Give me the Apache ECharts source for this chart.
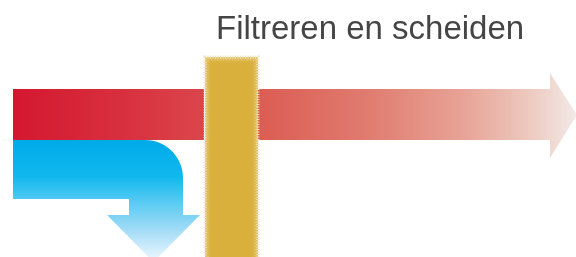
<!DOCTYPE html>
<html>
<head>
<meta charset="utf-8">
<script src="https://cdn.jsdelivr.net/npm/echarts@6/dist/echarts.min.js"></script>
<style>
  html, body { margin: 0; padding: 0; background: #fff; }
  #main { width: 576px; height: 257px; }
</style>
</head>
<body>
<div id="main"></div>
<script>
// diagram shapes, in the same units as the hidden axes (0..576 x 0..257)
const titleText = "Filtreren en scheiden";
const feedRed = [[13, 89], [204, 89], [204, 140], [13, 140]];
const passRed = [[258, 89], [550, 89], [550, 73], [577, 115], [550, 158], [550, 140], [258, 140]];
const filterBar = [[205, 57], [258, 57], [258, 262], [205, 262]];
const filterCore = [[209, 61], [254, 61], [254, 262], [209, 262]];
// blue branch: outline with a rounded corner (centre, radius)
const blueOutline = [[13, 140], [145, 140], "corner", [183, 215], [200, 215], [153.5, 262], [107, 215], [129, 215], [129, 199], [13, 199]];
const blueCorner = { c: [145, 178], r: 38 };

const grad = (x, y, x2, y2, stops) =>
  new echarts.graphic.LinearGradient(x, y, x2, y2, stops.map(([offset, color]) => ({ offset, color })));

const expand = (pts) => {
  const out = [];
  pts.forEach((p) => {
    if (p === "corner") {
      for (let a = -90; a <= 0; a += 6) {
        const t = (a * Math.PI) / 180;
        out.push([blueCorner.c[0] + blueCorner.r * Math.cos(t), blueCorner.c[1] + blueCorner.r * Math.sin(t)]);
      }
    } else out.push(p);
  });
  return out;
};

const shapeSeries = (name, pts, style, z) => ({
  name,
  type: "custom",
  coordinateSystem: "cartesian2d",
  z,
  silent: true,
  data: [[pts[0][0], pts[0][1]]],
  renderItem: (params, api) => ({
    type: "polygon",
    shape: { points: expand(pts).map((p) => api.coord(p)) },
    style,
  }),
});

const option = {
  animation: false,
  grid: { left: 0, right: 0, top: 0, bottom: 0 },
  xAxis: { type: "value", min: 0, max: 576, show: false },
  yAxis: { type: "value", min: 0, max: 257, inverse: true, show: false },
  title: {
    text: titleText,
    left: 211,
    top: 8,
    textStyle: { fontFamily: "Liberation Sans", fontSize: 33, fontWeight: "normal", color: "#454545" },
  },
  series: [
    shapeSeries("feed", feedRed, {
      fill: grad(0, 0, 1, 0, [[0, "#D4172F"], [0.6, "#D8313F"], [1, "#DB464B"]]),
    }, 2),
    shapeSeries("pass", passRed, {
      fill: grad(0, 0, 1, 0, [[0, "#DC5C53"], [0.35, "#E07C70"], [0.65, "#E8A497"], [0.85, "#EDC9BE"], [1, "#F3EAE8"]]),
    }, 2),
    shapeSeries("split", blueOutline, {
      fill: grad(0, 0, 0, 1, [[0, "#00AAE8"], [0.3, "#10B8EE"], [0.5, "#55C9F2"], [0.75, "#A6DDF7"], [1, "#F0F9FE"]]),
    }, 2),
    shapeSeries("filter", filterBar, {
      fill: "#E2C26A",
      stroke: "#F3E4BC",
      lineWidth: 3,
      lineDash: [1, 1.5],
    }, 3),
    shapeSeries("filterCore", filterCore, {
      fill: "#DAB03C",
      stroke: "#DDB64A",
      lineWidth: 3,
      lineDash: [2, 1],
    }, 4),
  ],
};

const myChart = echarts.init(document.getElementById("main"));
myChart.setOption(option);
</script>
</body>
</html>
